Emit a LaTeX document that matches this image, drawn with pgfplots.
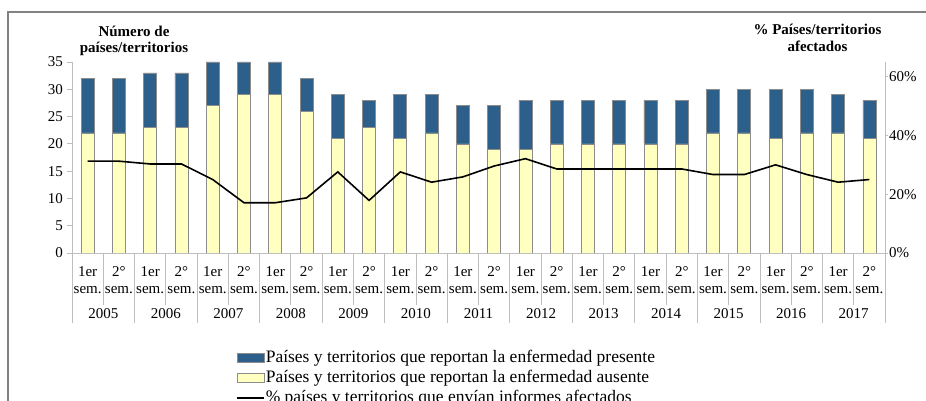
\documentclass[border=0pt]{standalone}
\usepackage{fontspec}
\setmainfont{Liberation Serif}
\usepackage{pgfplots}
\usepackage{pgfplotstable}
\pgfplotsset{compat=1.18}
\definecolor{cblue}{RGB}{44,95,138}
\definecolor{cyel}{RGB}{255,255,192}
\definecolor{axgray}{RGB}{190,190,190}
\definecolor{bargray}{RGB}{140,140,140}
\definecolor{framegray}{RGB}{130,130,130}

\pgfplotstableread{
x present absent pct
0 10 22 31.25
1 10 22 31.25
2 10 23 30.3
3 10 23 30.3
4 8 27 25.0
5 6 29 17.1
6 6 29 17.1
7 6 26 18.75
8 8 21 27.6
9 5 23 17.9
10 8 21 27.6
11 7 22 24.1
12 7 20 25.9
13 8 19 29.6
14 9 19 32.1
15 8 20 28.6
16 8 20 28.6
17 8 20 28.6
18 8 20 28.6
19 8 20 28.6
20 8 22 26.7
21 8 22 26.7
22 9 21 30.0
23 8 22 26.7
24 7 22 24.1
25 7 21 25.0
}\data

\newcommand{\tickfont}{\fontsize{15}{17}\selectfont}

\begin{document}
\begin{tikzpicture}
\useasboundingbox (0pt,0pt) rectangle (926pt,401pt);
\draw[framegray, line width=1.3pt] (8pt,-30pt) -- (8pt,389pt) -- (960pt,389pt);

\node[font=\bfseries\fontsize{15}{17}\selectfont, anchor=base] at (134pt,364.3pt) {Número de};
\node[font=\bfseries\fontsize{15}{17}\selectfont, anchor=base] at (134pt,348pt) {países/territorios};
\node[font=\bfseries\fontsize{15}{17}\selectfont, anchor=base] at (817.5pt,366pt) {\% Países/territorios};
\node[font=\bfseries\fontsize{15}{17}\selectfont, anchor=base] at (817.5pt,349.3pt) {afectados};

\begin{axis}[
  at={(72pt,148pt)}, anchor=south west,
  scale only axis, width=813pt, height=191pt,
  ybar stacked, bar width=13pt,
  xmin=-0.5, xmax=25.5, ymin=0, ymax=35,
  ytick={0,5,...,35},
  xtick={0,...,25},
  xticklabels={{1er\\sem.},{2°\\sem.},{1er\\sem.},{2°\\sem.},{1er\\sem.},{2°\\sem.},{1er\\sem.},{2°\\sem.},{1er\\sem.},{2°\\sem.},{1er\\sem.},{2°\\sem.},{1er\\sem.},{2°\\sem.},{1er\\sem.},{2°\\sem.},{1er\\sem.},{2°\\sem.},{1er\\sem.},{2°\\sem.},{1er\\sem.},{2°\\sem.},{1er\\sem.},{2°\\sem.},{1er\\sem.},{2°\\sem.}},
  axis x line*=bottom, axis y line*=left,
  axis line style={draw=axgray, line width=0.8pt, -},
  tick align=outside, major tick length=5pt,
  ytick style={draw=axgray, line width=0.8pt},
  xtick style={draw=none},
  /pgf/number format/assume math mode=true,
  yticklabel style={font=\tickfont, inner sep=0pt, xshift=-4pt},
  xticklabel style={font=\tickfont, align=center, inner sep=0pt, anchor=north, yshift=-8pt},
  clip mode=individual,
]
\addplot[fill=cyel, draw=bargray, line width=0.7pt] table[x=x,y=absent]{\data};
\addplot[fill=cblue, draw=bargray, line width=0.7pt] table[x=x,y=present]{\data};
\pgfplotsinvokeforeach{0,...,26}{
  \draw[axgray, line width=0.8pt] (axis cs:#1-0.5,0) -- ++(0pt,-52pt);
}
\pgfplotsinvokeforeach{0,...,13}{
  \draw[axgray, line width=0.8pt] (axis cs:2*#1-0.5,0) -- ++(0pt,-70pt);
}
\pgfplotsinvokeforeach{0,...,12}{
  \node[anchor=base, font=\tickfont, yshift=-66pt] at (axis cs:2*#1+0.5,0) {\the\numexpr2005+#1\relax};
}
\end{axis}

\begin{axis}[
  at={(72pt,148pt)}, anchor=south west,
  scale only axis, width=813pt, height=191pt,
  xmin=-0.5, xmax=25.5, ymin=0, ymax=65,
  axis y line*=right, axis x line=none,
  axis line style={draw=axgray, line width=0.8pt, -},
  ytick={0,20,40,60},
  yticklabel={\pgfmathprintnumber{\tick}\%},
  tick align=outside, major tick length=3pt,
  ytick style={draw=axgray, line width=0.8pt},
  /pgf/number format/assume math mode=true,
  yticklabel style={font=\tickfont, inner sep=0pt, xshift=1pt},
  legend style={at={(0.198,-0.49)}, anchor=north west, draw=none, fill=none,
    font=\fontsize{17.5}{20}\selectfont, row sep=0pt,
    nodes={inner sep=1pt, text height=13pt, text depth=5pt}},
  legend cell align=left,
]
\addlegendimage{legend image code/.code={\draw[fill=cblue,draw=bargray,line width=0.7pt] (0pt,-3.5pt) rectangle (27pt,5pt);}}
\addlegendentry{Países y territorios que reportan la enfermedad presente}
\addlegendimage{legend image code/.code={\draw[fill=cyel,draw=bargray,line width=0.7pt] (0pt,-3.5pt) rectangle (27pt,5pt);}}
\addlegendentry{Países y territorios que reportan la enfermedad ausente}
\addplot[black, line width=1.6pt, mark=none, legend image code/.code={\draw[black,line width=1.6pt] (0pt,0.5pt) -- (27pt,0.5pt);}] table[x=x,y=pct]{\data};
\addlegendentry{\% países y territorios que envían informes afectados}
\end{axis}
\end{tikzpicture}
\end{document}
